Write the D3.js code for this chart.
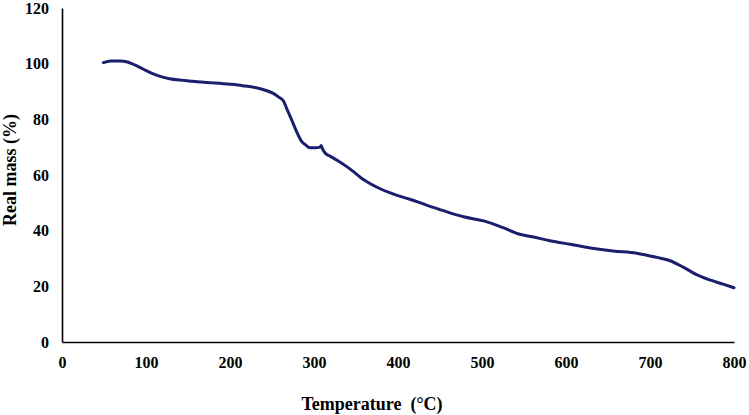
<!DOCTYPE html>
<html>
<head>
<meta charset="utf-8">
<script src="https://cdn.jsdelivr.net/npm/d3@7"></script>
<style>
  html, body { margin: 0; padding: 0; background: #fff; }
  svg { display: block; }
  text { font-family: "Liberation Serif", "Times New Roman", serif; font-weight: bold; fill: #000; }
</style>
</head>
<body>
<svg id="chart" width="749" height="415"></svg>
<script>
const temperature = [49.2, 58, 69, 78, 87, 97, 105, 115, 128, 145, 161, 180, 200, 215, 236, 251, 258, 264, 268, 272, 279, 285, 290, 295, 302, 307, 308.5, 310, 313, 320, 327, 339, 347, 355, 363, 375, 394, 414, 434, 454, 478, 502, 525, 545, 560, 581, 605, 629, 656, 684, 708, 724, 740, 756, 771, 787, 800];
const realMass = [100.4, 101, 101, 100.6, 99.5, 98, 96.8, 95.6, 94.6, 94, 93.5, 93.1, 92.6, 92.1, 91, 89.4, 88, 86.4, 83.5, 80.8, 75.8, 72.2, 70.8, 69.8, 69.8, 70, 70.6, 69.5, 68, 66.6, 65.4, 63, 61.2, 59.2, 57.6, 55.6, 53.2, 51.3, 49.2, 47.2, 45, 43.5, 41.1, 38.7, 37.8, 36.4, 35.1, 33.8, 32.7, 31.9, 30.4, 29.2, 26.8, 24.1, 22.3, 20.8, 19.5];
const xTicks = [0, 100, 200, 300, 400, 500, 600, 700, 800];
const yTicks = [0, 20, 40, 60, 80, 100, 120];
const xTitle = "Temperature\u00a0 (\u00b0C)";
const yTitle = "Real mass (%)";

const svg = d3.select("#chart");
const x = d3.scaleLinear().domain([0, 800]).range([62, 734]);
const y = d3.scaleLinear().domain([0, 120]).range([342, 8]);

const xAxis = d3.axisBottom(x).tickValues(xTicks).tickSize(0).tickPadding(15).tickFormat(d3.format("d"));
const gx = svg.append("g").attr("transform", `translate(0,${y(0)})`).call(xAxis);
gx.select(".domain").attr("stroke", "#000").attr("stroke-width", 1.6);
gx.selectAll("text").style("font-size", "16px").style("font-family", "Liberation Serif").style("font-weight", "bold");

const yAxis = d3.axisLeft(y).tickValues(yTicks).tickSize(0).tickPadding(13).tickFormat(d3.format("d"));
const gy = svg.append("g").attr("transform", `translate(${x(0)},0)`).call(yAxis);
gy.select(".domain").attr("stroke", "#000").attr("stroke-width", 1.6);
gy.selectAll("text").style("font-size", "16px").style("font-family", "Liberation Serif").style("font-weight", "bold");

const data = temperature.map((t, i) => ({ t, m: realMass[i] }));
const line = d3.line().x(d => x(d.t)).y(d => y(d.m)).curve(d3.curveMonotoneX);
svg.append("path")
  .datum(data)
  .attr("d", line)
  .attr("fill", "none")
  .attr("stroke", "#1a1f6c")
  .attr("stroke-width", 3)
  .attr("stroke-linejoin", "round")
  .attr("stroke-linecap", "round");

svg.append("text")
  .attr("x", 372).attr("y", 410)
  .attr("text-anchor", "middle")
  .style("font-size", "18px")
  .text(xTitle);

svg.append("text")
  .attr("transform", "translate(16,170) rotate(-90)")
  .attr("text-anchor", "middle")
  .style("font-size", "18px")
  .text(yTitle);
</script>
</body>
</html>
